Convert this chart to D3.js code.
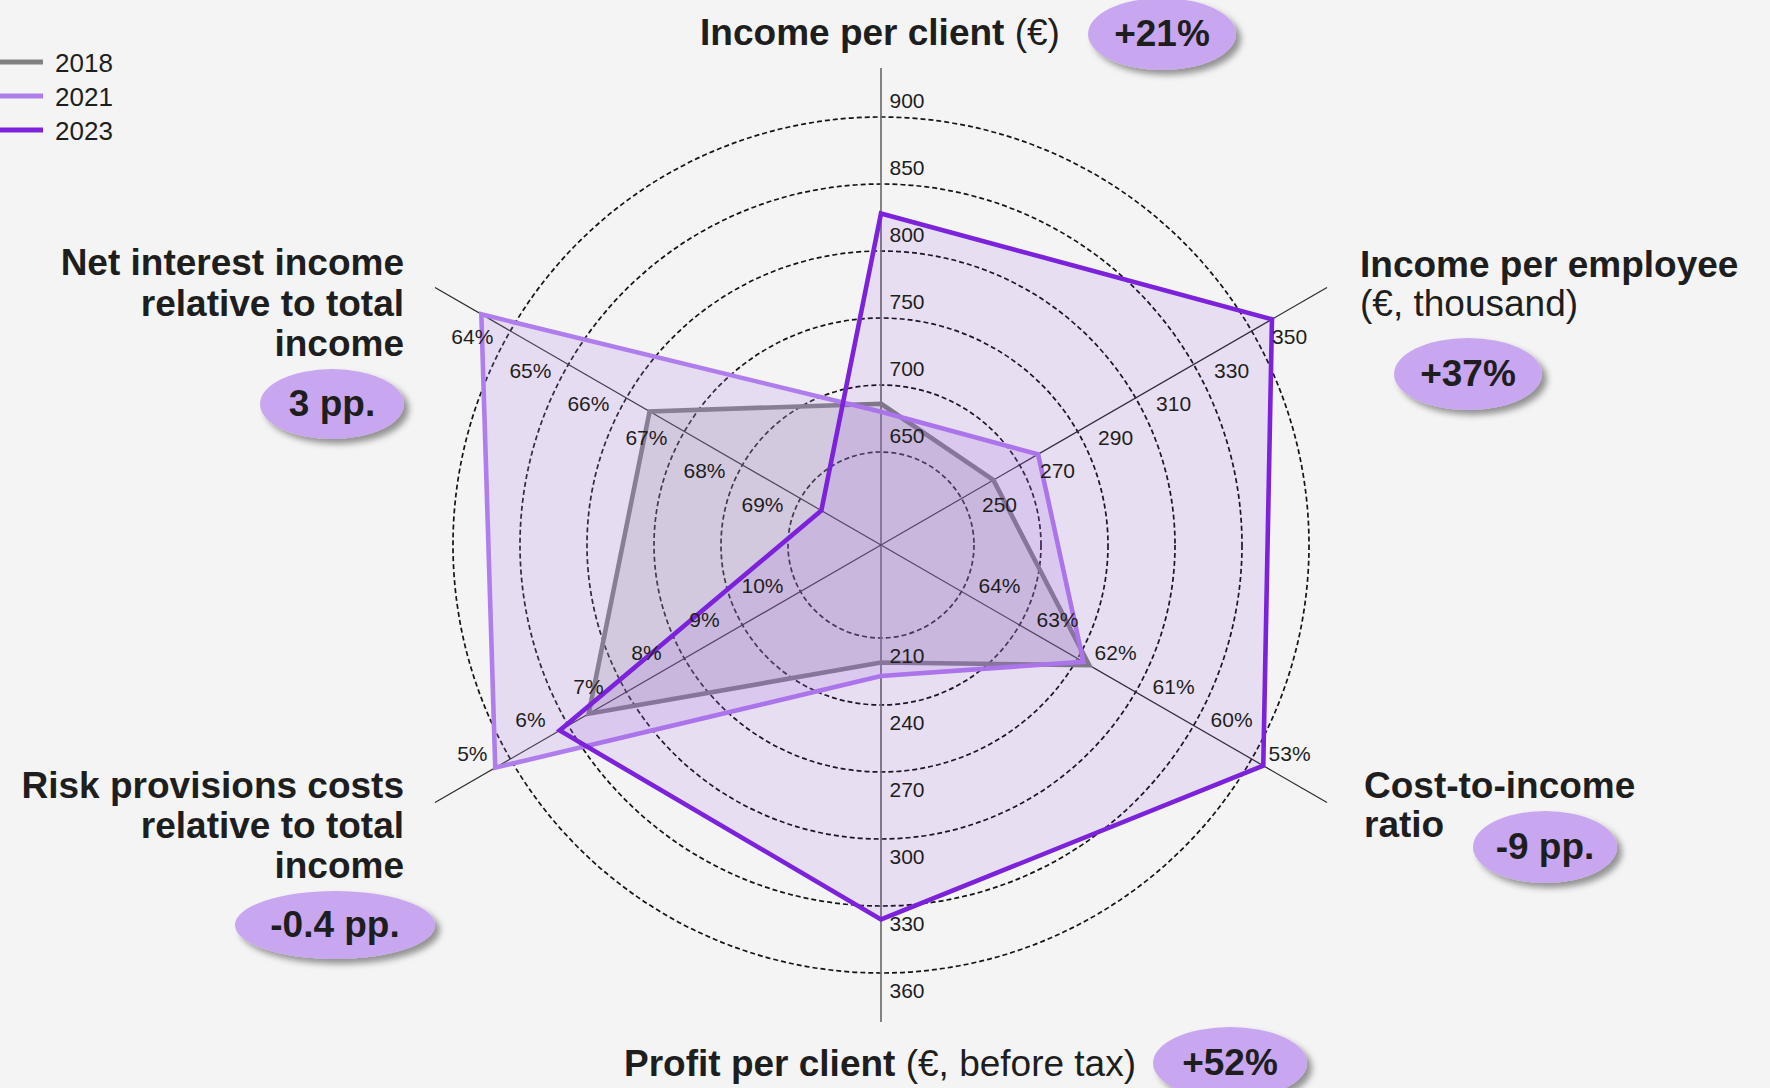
<!DOCTYPE html>
<html><head><meta charset="utf-8">
<script src="https://cdn.jsdelivr.net/npm/d3@7"></script>
<style>
html,body{margin:0;padding:0;background:#f4f4f4;}
svg{display:block;font-family:"Liberation Sans",Arial,Helvetica,sans-serif;}
</style></head><body>
<svg id="chart" width="1770" height="1088"></svg>
<script>
// ---------------- DATA ----------------
const categories = [
  "Income per client",
  "Income per employee",
  "Cost-to-income ratio",
  "Profit per client",
  "Risk provisions costs relative to total income",
  "Net interest income relative to total income"
];
const seriesNames = ["2018", "2021", "2023"];
const values2018 = [686, 261, 61.8, 221, 6.35, 66.4];
const values2021 = [680, 276.4, 61.9, 227, 4.74, 63.5];
const values2023 = [828, 357, 52.8, 336, 5.85, 69.36];

const ticksIncomeClient   = [650, 700, 750, 800, 850, 900];
const ticksIncomeEmployee = [250, 270, 290, 310, 330, 350];
const ticksCostIncome     = [64, 63, 62, 61, 60, 53];
const ticksProfitClient   = [210, 240, 270, 300, 330, 360];
const ticksRiskProvisions = [10, 9, 8, 7, 6, 5];
const ticksNetInterest    = [69, 68, 67, 66, 65, 64];
const percentAxes = [false, false, true, false, true, true];
const costIncomeBeyondOuter = 52; // scale continues 1 pp per ring beyond the 53% ring

const changeLabels = ["+21%", "+37%", "-9 pp.", "+52%", "-0.4 pp.", "3 pp."];

// ---------------- LAYOUT ----------------
const W = 1770, H = 1088, cx = 881, cy = 545;
const colors = {"2018": "#808080", "2021": "#b07eec", "2023": "#7b22da"};
const fillOpacity = {"2018": 0.2, "2021": 0.2, "2023": 0.1};
const textColor = "#1e1e1e";

const svg = d3.select("#chart");
svg.append("rect").attr("width", W).attr("height", H).attr("fill", "#f4f4f4");
const defs = svg.append("defs");
const flt = defs.append("filter").attr("id", "shadow")
  .attr("x", "-30%").attr("y", "-30%").attr("width", "170%").attr("height", "180%");
flt.append("feDropShadow").attr("dx", 5).attr("dy", 5).attr("stdDeviation", 3)
  .attr("flood-color", "#000").attr("flood-opacity", 0.4);

const axisTicks = [ticksIncomeClient, ticksIncomeEmployee, ticksCostIncome,
                   ticksProfitClient, ticksRiskProvisions, ticksNetInterest];
const ring = d3.scaleLinear().domain([0, 5]).range([93, 428]);
const angle = d3.scaleLinear().domain([0, categories.length]).range([0, 2 * Math.PI]);
const axisScales = axisTicks.map((t, i) => {
  const dom = i === 2 ? t.concat([costIncomeBeyondOuter]) : t;
  return d3.scaleLinear().domain(dom).range(dom.map((_, k) => k));
});

const g = svg.append("g").attr("transform", `translate(${cx},${cy})`);

// rings
g.selectAll("circle.ring").data(d3.range(6)).join("circle")
  .attr("class", "ring").attr("r", d => ring(d))
  .attr("fill", "none").attr("stroke", "#141414")
  .attr("stroke-width", 1.7).attr("stroke-dasharray", "5,3");

// axes
g.selectAll("line.axis").data(categories).join("line")
  .attr("class", "axis")
  .attr("x1", 0).attr("y1", 0)
  .attr("x2", (d, i) => (i % 3 === 0 ? 477 : 515) * Math.sin(angle(i)))
  .attr("y2", (d, i) => -(i % 3 === 0 ? 477 : 515) * Math.cos(angle(i)))
  .attr("stroke", (d, i) => i % 3 === 0 ? "#6e6e6e" : "#2a2a2a")
  .attr("stroke-width", (d, i) => i % 3 === 0 ? 1.7 : 1.2);

// series
const radial = d3.lineRadial()
  .angle((d, i) => angle(i))
  .radius((d, i) => ring(axisScales[i](d)))
  .curve(d3.curveLinearClosed);
const seriesData = [values2018, values2021, values2023];
seriesNames.forEach((name, s) => {
  g.append("path").attr("d", radial(seriesData[s]))
    .attr("fill", colors[name]).attr("fill-opacity", fillOpacity[name])
    .attr("stroke", colors[name]).attr("stroke-width", 4.6)
    .attr("stroke-linejoin", "miter");
});

// tick labels
const sides = [1, 1, -1, -1, 1, -1];
axisTicks.forEach((ticks, i) => {
  const a = angle(i);
  const ux = Math.sin(a), uy = -Math.cos(a);
  const nx = Math.cos(a), ny = Math.sin(a);
  const vertical = i % 3 === 0;
  const along = vertical ? 17 : 30, perp = vertical ? 26 : 24;
  g.selectAll(null).data(ticks).join("text")
    .attr("x", (d, k) => ux * (ring(k) + along) + nx * perp * sides[i])
    .attr("y", (d, k) => uy * (ring(k) + along) + ny * perp * sides[i])
    .attr("text-anchor", "middle").attr("dominant-baseline", "central")
    .attr("font-size", 21).attr("fill", textColor)
    .text(d => percentAxes[i] ? d + "%" : d);
});

// category labels
function multiText(x, y0, lines, anchor, lh) {
  const t = svg.append("text").attr("text-anchor", anchor)
    .attr("font-size", 37).attr("fill", textColor);
  lines.forEach((ln, k) => {
    const row = t.append("tspan").attr("x", x).attr("y", y0 + k * lh);
    ln.forEach(part => row.append("tspan")
      .attr("font-weight", part[1] ? 700 : 400).text(part[0]));
  });
}
multiText(880, 45, [[["Income per client", true], [" (€)", false]]], "middle", 0);
multiText(1360, 277, [[["Income per employee", true]], [["(€, thousand)", false]]], "start", 38.5);
multiText(1364, 798, [[["Cost-to-income", true]], [["ratio", true]]], "start", 39);
multiText(880, 1076, [[["Profit per client", true], [" (€, before tax)", false]]], "middle", 0);
multiText(404, 798, [[["Risk provisions costs", true]], [["relative to total", true]], [["income", true]]], "end", 40);
multiText(404, 275, [[["Net interest income", true]], [["relative to total", true]], [["income", true]]], "end", 40.5);

// change badges
const badgePos = [
  {x: 1162, y: 34, rx: 74, ry: 36},
  {x: 1468, y: 374, rx: 74, ry: 36},
  {x: 1545, y: 847, rx: 72, ry: 36},
  {x: 1230, y: 1063, rx: 77, ry: 36},
  {x: 335, y: 925, rx: 100, ry: 34},
  {x: 332, y: 404, rx: 72, ry: 35}
];
changeLabels.forEach((lab, i) => {
  const p = badgePos[i];
  svg.append("ellipse").attr("cx", p.x).attr("cy", p.y).attr("rx", p.rx).attr("ry", p.ry)
    .attr("fill", "#c9a7f0").attr("filter", "url(#shadow)");
  svg.append("text").attr("x", p.x).attr("y", p.y + 12)
    .attr("text-anchor", "middle").attr("font-size", 37).attr("font-weight", 700)
    .attr("fill", textColor).text(lab);
});

// legend
const leg = svg.append("g");
seriesNames.forEach((name, k) => {
  const y = 62 + k * 34;
  leg.append("line").attr("x1", -2).attr("x2", 43).attr("y1", y).attr("y2", y)
    .attr("stroke", colors[name]).attr("stroke-width", 5);
  leg.append("text").attr("x", 55).attr("y", y + 9.5)
    .attr("font-size", 26).attr("fill", textColor).text(name);
});
</script>
</body></html>
